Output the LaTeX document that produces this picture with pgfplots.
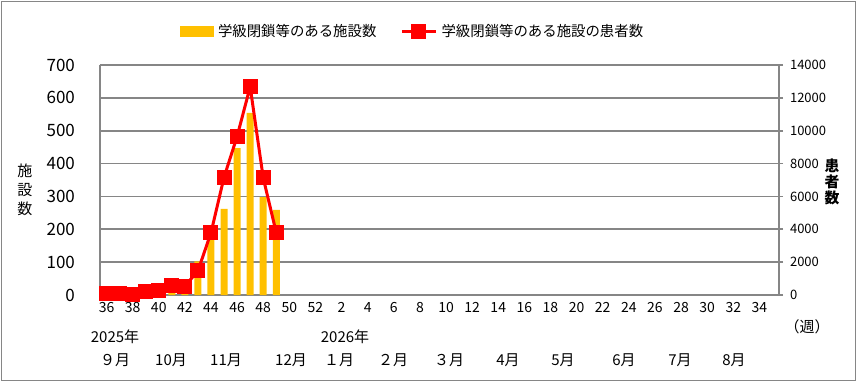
\documentclass[border=0pt]{standalone}
\usepackage{fontspec}
\setmainfont{Noto Sans CJK JP}
\usepackage{pgfplots}
\pgfplotsset{compat=1.18}
\definecolor{barc}{HTML}{FFC000}
\definecolor{gridc}{RGB}{134,134,134}
\pgfplotstableread{
k fac pat
0 1 100
1 1 100
2 0 50
3 2 200
4 5 300
5 18 580
6 14 540
7 102 1470
8 172 3790
9 262 7170
10 447 9650
11 554 12680
12 298 7130
13 259 3790
}\datatab
\begin{document}
\begin{tikzpicture}
\useasboundingbox (0,0) rectangle (428.5pt,191pt);
\draw[gridc, line width=0.8pt] (0.8pt,0.8pt) rectangle (427.7pt,190.2pt);
\begin{axis}[
 at={(50pt,43.5pt)}, anchor=south west, scale only axis,
 width=339.5pt, height=115pt,
 xmin=-0.5, xmax=51.5, ymin=0, ymax=700,
 axis x line*=bottom, axis y line*=left,
 axis line style={gridc, line width=0.8pt, -},
 ymajorgrids, grid style={gridc, line width=0.8pt},
 ytick={0,100,...,700},
 xtick={0,2,...,50},
 xticklabels={36,38,40,42,44,46,48,50,52,2,4,6,8,10,12,14,16,18,20,22,24,26,28,30,32,34},
 major tick length=0pt,
 xticklabel style={font=\fontsize{7}{8}\selectfont},
 yticklabel style={font=\fontsize{8.5}{10}\selectfont, xshift=-9pt},
 /pgf/number format/assume math mode=true,
 ybar, bar width=3.5pt,
]
\addplot[fill=barc, draw=none] table[x=k, y=fac] {\datatab};
\end{axis}
\begin{axis}[
 at={(50pt,43.5pt)}, anchor=south west, scale only axis,
 width=339.5pt, height=115pt,
 xmin=-0.5, xmax=51.5, ymin=0, ymax=14000,
 axis y line*=right, axis x line=none,
 axis line style={gridc, line width=0.8pt, -},
 ytick={0,2000,...,14000},
 scaled y ticks=false,
 /pgf/number format/assume math mode=true,
 /pgf/number format/1000 sep={},
 yticklabel style={font=\fontsize{6.5}{8}\selectfont},
 tick align=outside, major tick length=2pt, tick style={gridc, line width=0.8pt},
 legend style={at={(0.462,1.145)}, anchor=center, draw=none, fill=none,
   font=\fontsize{7.2}{9}\selectfont, legend columns=2,
   /tikz/every even column/.append style={column sep=10pt}},
 legend cell align=left,
]
\addlegendimage{legend image code/.code={\fill[barc] (0pt,-2.5pt) rectangle (16.5pt,2.5pt);}}
\addlegendentry{学級閉鎖等のある施設数}
\addplot[red, line width=1.5pt, mark=square*, mark size=3pt, mark options={solid}] table[x=k, y=pat] {\datatab};
\addlegendentry{学級閉鎖等のある施設の患者数}
\end{axis}
\begin{scope}[every node/.style={font=\fontsize{7.5}{9}\selectfont, inner sep=0pt}]
\node at (57.5pt,11pt) {９月};
\node at (85.5pt,11pt) {10月};
\node at (113pt,11pt) {11月};
\node at (145.5pt,11pt) {12月};
\node at (169.5pt,11pt) {１月};
\node at (196.5pt,11pt) {２月};
\node at (224.5pt,11pt) {３月};
\node at (254pt,11pt) {4月};
\node at (281.5pt,11pt) {5月};
\node at (312pt,11pt) {6月};
\node at (340pt,11pt) {7月};
\node at (367pt,11pt) {8月};
\node at (57.5pt,22.5pt) {2025年};
\node at (172.5pt,22.5pt) {2026年};
\node at (403.5pt,27.5pt) {（週）};
\node[align=center, font=\fontsize{7.5}{9.5}\selectfont] at (12.5pt,96pt) {施\\設\\数};
\node[align=center, font=\fontsize{7.4}{8.2}\selectfont] at (416pt,100pt) {\textbf{患}\\\textbf{者}\\\textbf{数}};
\end{scope}
\end{tikzpicture}
\end{document}
